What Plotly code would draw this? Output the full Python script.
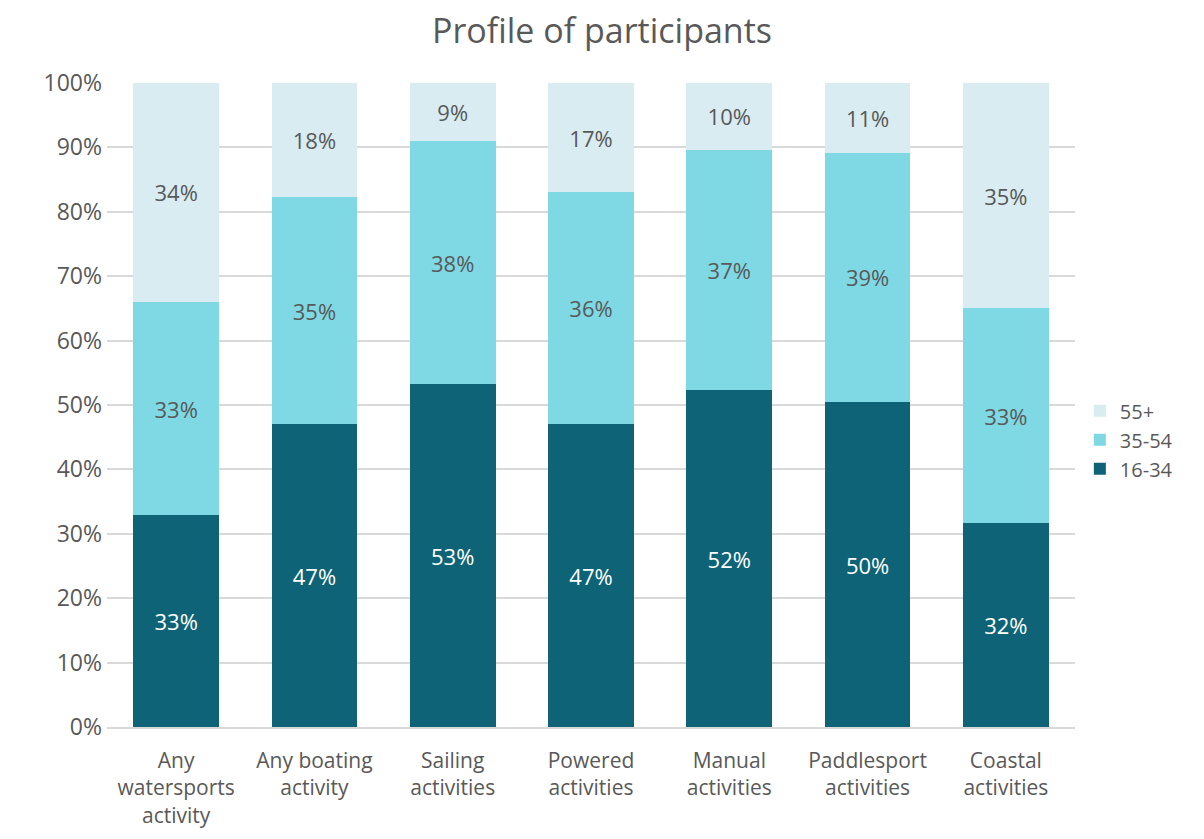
import plotly.graph_objects as go

categories = ["Any<br>watersports<br>activity", "Any boating<br>activity", "Sailing<br>activities",
              "Powered<br>activities", "Manual<br>activities", "Paddlesport<br>activities", "Coastal<br>activities"]
age_16_34 = [32.9, 47.0, 53.2, 47.0, 52.3, 50.4, 31.7]
age_35_54 = [33.1, 35.3, 37.8, 36.0, 37.3, 38.8, 33.3]
age_55_plus = [34.0, 17.7, 9.0, 17.0, 10.4, 10.8, 35.0]
y_ticks = [0, 10, 20, 30, 40, 50, 60, 70, 80, 90, 100]

FONT = "Open Sans, Noto Sans, sans-serif"
GREY = "#595959"

fig = go.Figure()
series = [
    ("16-34", age_16_34, "#0E6377", "white"),
    ("35-54", age_35_54, "#7ED9E4", GREY),
    ("55+", age_55_plus, "#D8ECF2", GREY),
]
for name, vals, color, tcolor in series:
    fig.add_trace(go.Bar(
        name=name, legendgroup=name, x=categories, y=vals,
        marker=dict(color=color, line=dict(width=0)),
        text=vals, texttemplate="%{y:.0f}%", textposition="inside", insidetextanchor="middle",
        textfont=dict(size=22, color=tcolor, family=FONT), hoverinfo="skip",
    ))

fig.update_layout(
    barmode="stack", bargap=0.38,
    width=1188, height=823,
    margin=dict(l=99, r=121, t=75, b=104),
    paper_bgcolor="white", plot_bgcolor="white",
    font=dict(family=FONT, color=GREY, size=22),
    title=dict(text="Profile of participants", x=0.5, xanchor="center", y=0.972, yanchor="middle",
               font=dict(size=34, color=GREY, family=FONT)),
    legend=dict(traceorder="reversed", x=1.005, xanchor="left", y=0.446, yanchor="middle",
                font=dict(size=20, color=GREY), itemwidth=30, tracegroupgap=5),
    uniformtext=dict(mode=False),
)
fig.update_yaxes(range=[0, 100], tickvals=y_ticks, ticktext=[f"{v}%" for v in y_ticks],
                 showgrid=True, gridcolor="#D9D9D9", gridwidth=1.5, zeroline=False,
                 ticks="", ticklen=0, tickfont=dict(size=23, color=GREY), showline=False,
                 ticklabelstandoff=4, automargin=False)
fig.update_xaxes(showline=True, linecolor="#D9D9D9", linewidth=1.5, ticks="",
                 tickfont=dict(size=21, color=GREY), ticklabelstandoff=14, automargin=False)

fig.write_html("out.html")
